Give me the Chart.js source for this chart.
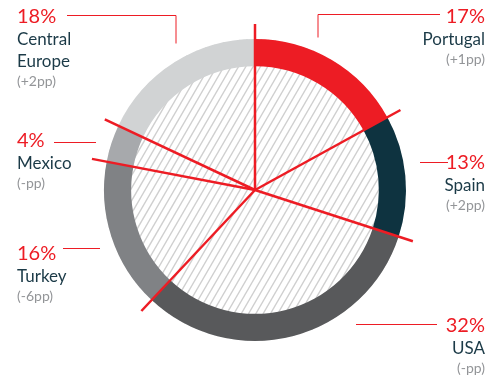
<!DOCTYPE html>
<html>
<head>
<meta charset="utf-8">
<style>
  html, body { margin:0; padding:0; background:#fff; }
</style>
</head>
<body>
<canvas id="_chart" width="501" height="381"></canvas>

<script src="https://cdn.jsdelivr.net/npm/chart.js"></script>
<script>
var countries = ['Portugal', 'Spain', 'USA', 'Turkey', 'Mexico', ['Central', 'Europe']];
var shares = [17, 13, 32, 16, 4, 18];
var changes = ['(+1pp)', '(+2pp)', '(-pp)', '(-6pp)', '(-pp)', '(+2pp)'];
var colors = ['#ed1c24', '#0e3340', '#58595b', '#808285', '#a7a9ac', '#d1d3d4'];

var RED = '#ed1c24';
var FONT = 'Lato, "Open Sans", sans-serif';

// where each label block sits: x, side, baseline of the percent, leader line
var labelLayout = [
	{ x:485, align:'right', y:23,  line:[[440,14],[318,14],[318,37]] },
	{ x:485, align:'right', y:169, line:[[420,162],[448,162]] },
	{ x:485, align:'right', y:332, line:[[356,324],[437,324]] },
	{ x:17,  align:'left',  y:260, line:[[63,248],[100,248]] },
	{ x:17,  align:'left',  y:147, line:[[54,142],[96,142]] },
	{ x:17,  align:'left',  y:23,  line:[[67,15],[176,15],[176,43]] },
];

var hatch = {
	id: 'hatch',
	beforeDatasetsDraw(chart) {
		var arc = chart.getDatasetMeta(0).data[0];
		var ctx = chart.ctx, cx = arc.x, cy = arc.y, r = arc.outerRadius;
		ctx.save();
		ctx.beginPath();
		ctx.arc(cx, cy, r, 0, Math.PI*2);
		ctx.clip();
		ctx.strokeStyle = '#cfcfcf';
		ctx.lineWidth = 1.4;
		var step = 7.3, h = r*2;
		for (var x = cx - r - h; x < cx + r + h; x += step) {
			ctx.beginPath();
			ctx.moveTo(x, cy + r);
			ctx.lineTo(x + h*0.58, cy - r);
			ctx.stroke();
		}
		ctx.restore();
	}
};

var spokes = {
	id: 'spokes',
	afterDatasetsDraw(chart) {
		var meta = chart.getDatasetMeta(0);
		var ctx = chart.ctx, cx = meta.data[0].x, cy = meta.data[0].y;
		var len = meta.data[0].outerRadius + 15;
		ctx.save();
		ctx.strokeStyle = RED;
		ctx.lineWidth = 2.5;
		meta.data.forEach(function(a) {
			ctx.beginPath();
			ctx.moveTo(cx, cy);
			ctx.lineTo(cx + Math.cos(a.startAngle)*len, cy + Math.sin(a.startAngle)*len);
			ctx.stroke();
		});
		ctx.restore();
	}
};

var labels = {
	id: 'labels',
	afterDraw(chart) {
		var ctx = chart.ctx;
		ctx.save();
		labelLayout.forEach(function(l, i) {
			ctx.strokeStyle = RED;
			ctx.lineWidth = 1;
			ctx.beginPath();
			l.line.forEach(function(p, j) { j ? ctx.lineTo(p[0], p[1]+0.5) : ctx.moveTo(p[0], p[1]+0.5); });
			ctx.stroke();

			ctx.textAlign = l.align;
			ctx.textBaseline = 'alphabetic';
			ctx.fillStyle = RED;
			ctx.font = '20px ' + FONT;
			ctx.fillText(shares[i] + '%', l.x, l.y);

			var y = l.y;
			ctx.fillStyle = '#1b3a47';
			ctx.font = '17px ' + FONT;
			[].concat(countries[i]).forEach(function(t) {
				y += 22;
				ctx.fillText(t, l.x, y);
			});
			ctx.fillStyle = '#939598';
			ctx.font = '14px ' + FONT;
			ctx.fillText(changes[i], l.x, y + 19);
		});
		ctx.restore();
	}
};

new Chart(_chart, {
	type: 'doughnut',
	data: {
		labels: countries,
		datasets: [{
			data: shares,
			backgroundColor: colors,
			borderWidth: 0,
		}]
	},
	options: {
		responsive: false,
		animation: false,
		cutout: '82%',
		layout: { padding: { left:104, right:95, top:39, bottom:40 } },
		plugins: {
			legend: { display:false },
			tooltip: { enabled:false },
		}
	},
	plugins: [hatch, spokes, labels]
});
</script>
</body>
</html>
